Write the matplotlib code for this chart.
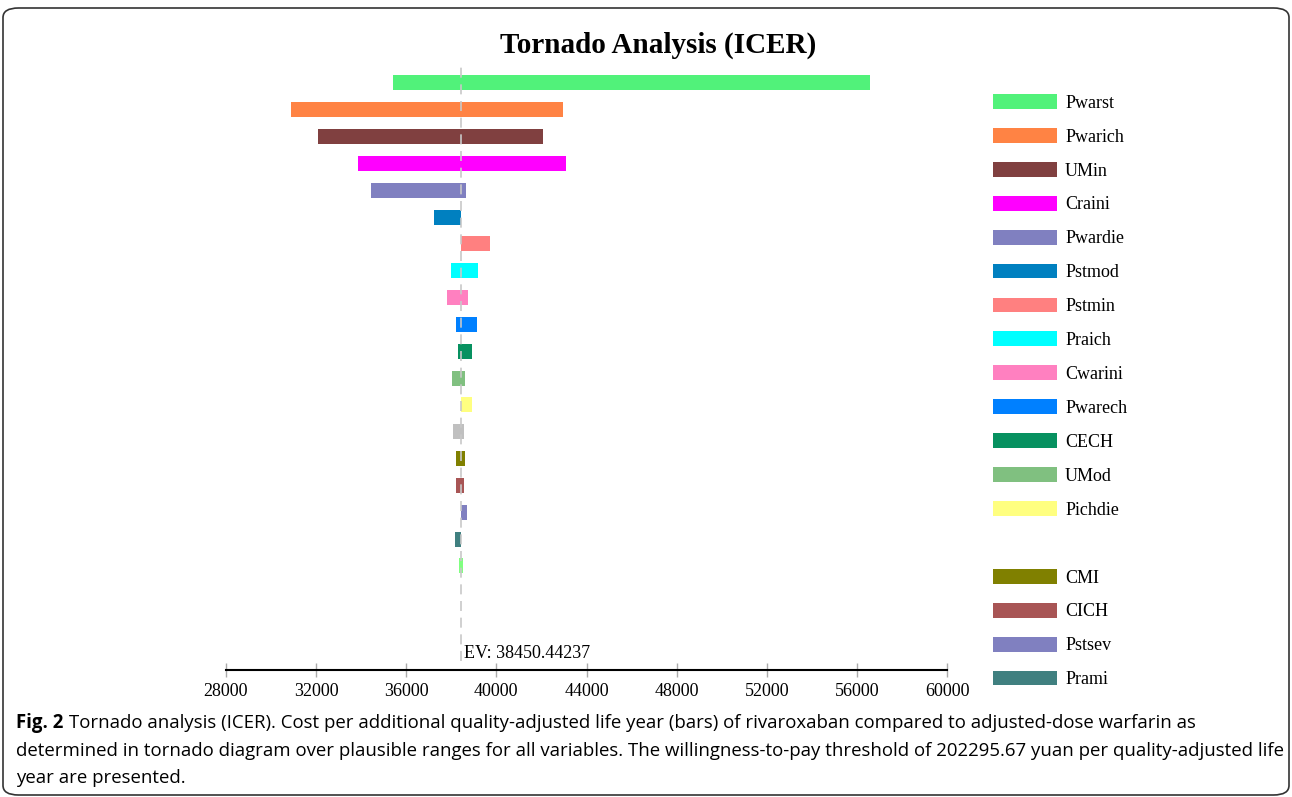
import matplotlib.pyplot as plt
from matplotlib.patches import Patch, FancyBboxPatch

# tornado data (ICER)
ev = 38450.44237
labels = ["Pwarst", "Pwarich", "UMin", "Craini", "Pwardie", "Pstmod", "Pstmin",
          "Praich", "Cwarini", "Pwarech", "CECH", "UMod", "Pichdie", "",
          "CMI", "CICH", "Pstsev", "Prami", ""]
low = [35430, 30890, 32090, 33870, 34450, 37210, ev,
       37990, 37810, 38210, 38300, 38030, ev, 38070,
       38210, 38210, ev, 38160, 38340]
high = [56580, 42950, 42070, 43090, 38670, ev, 39710,
        39180, 38740, 39140, 38920, 38610, 38920, 38560,
        38610, 38560, 38690, ev, 38520]
colors = ["#51F27A", "#FF8344", "#804040", "#FF00FF", "#8080C0", "#0080C0", "#FF8080",
          "#00FFFF", "#FF80C0", "#0080FF", "#079160", "#80C080", "#FFFF80", "#C0C0C0",
          "#808000", "#A85555", "#8080C0", "#408080", "#80FF80"]
xticks = list(range(28000, 60001, 4000))

serif = ["Liberation Serif", "DejaVu Serif"]
W, H = 1292, 797

fig = plt.figure(figsize=(12.92, 7.97), dpi=100)
ax = fig.add_axes([226 / W, 1 - 670 / H, (947 - 226) / W, (670 - 65) / H])

widths = [h - l for l, h in zip(low, high)]
ax.barh(range(len(labels)), widths, left=low, height=0.56, color=colors)

ax.set_xlim(28000, 60000)
ax.set_ylim(21.88, -0.67)
ax.axvline(ev, ymin=0.015, ymax=1, color="#c8c8c8", lw=1.2, ls=(0, (6, 4)), zorder=3)
ax.annotate("EV: 38450.44237", xy=(ev, 0), xycoords=("data", "axes fraction"),
            xytext=(2, 9), textcoords="offset points", va="baseline", ha="left",
            fontsize=13, family=serif)

for s in ["top", "right", "left"]:
    ax.spines[s].set_visible(False)
ax.spines["bottom"].set_linewidth(1.5)
ax.set_yticks([])
ax.set_xticks(xticks)
ax.set_xticklabels([str(t) for t in xticks], family=serif)
ax.tick_params(axis="x", direction="inout", length=10, width=1, color="#aaaaaa",
               labelsize=13, pad=4.5)

fig.text(658 / W, 1 - 45 / H, "Tornado Analysis (ICER)", ha="center", va="center",
         fontsize=21, weight="bold", family=serif)

# legend (entry 14 is blank in the original, last bar has no entry)
handles = []
for i in range(18):
    if labels[i] == "":
        handles.append(Patch(facecolor="none", edgecolor="none"))
    else:
        handles.append(Patch(facecolor=colors[i], edgecolor="none"))
leg = fig.legend(handles, [l if l else " " for l in labels[:18]], loc="upper left",
                 bbox_to_anchor=(993 / W, 1 - 94 / H), frameon=False,
                 prop={"family": serif, "size": 13}, handlelength=3.54,
                 handleheight=0.89, labelspacing=0.9, handletextpad=0.45,
                 borderpad=0, borderaxespad=0)

# frame around the figure
box = FancyBboxPatch((3 / W, 1 - 795 / H), 1286 / W, (795 - 8) / H,
                     boxstyle="round,pad=0,rounding_size=0.012",
                     transform=fig.transFigure, fill=False, ec="#333333", lw=1.2)
fig.add_artist(box)

# caption, sized so that the second line spans the same width as in the original
cap = ["Open Sans", "DejaVu Sans"]
t_fig = fig.text(16 / W, 1 - 723 / H, "Fig. 2", weight="bold", va="center", family=cap)
t1 = fig.text(82 / W, 1 - 723 / H,
              "Tornado analysis (ICER). Cost per additional quality-adjusted life year (bars) of "
              "rivaroxaban compared to adjusted-dose warfarin as",
              va="center", family=cap)
t2 = fig.text(16 / W, 1 - 751 / H,
              "determined in tornado diagram over plausible ranges for all variables. The "
              "willingness-to-pay threshold of 202295.67 yuan per quality-adjusted life",
              va="center", family=cap)
t3 = fig.text(16 / W, 1 - 778 / H, "year are presented.", va="center", family=cap)
caps = [t_fig, t1, t2, t3]
for t in caps:
    t.set_fontsize(12)
fig.canvas.draw()
r = fig.canvas.get_renderer()
w2 = t2.get_window_extent(r).width
size = 12 * 1261 / w2
for t in caps:
    t.set_fontsize(size)
fig.canvas.draw()
end_fig = t_fig.get_window_extent(r).x1
t1.set_x((end_fig + 0.28 * size * 100 / 72) / W)

fig.savefig("out.png", dpi=100)
